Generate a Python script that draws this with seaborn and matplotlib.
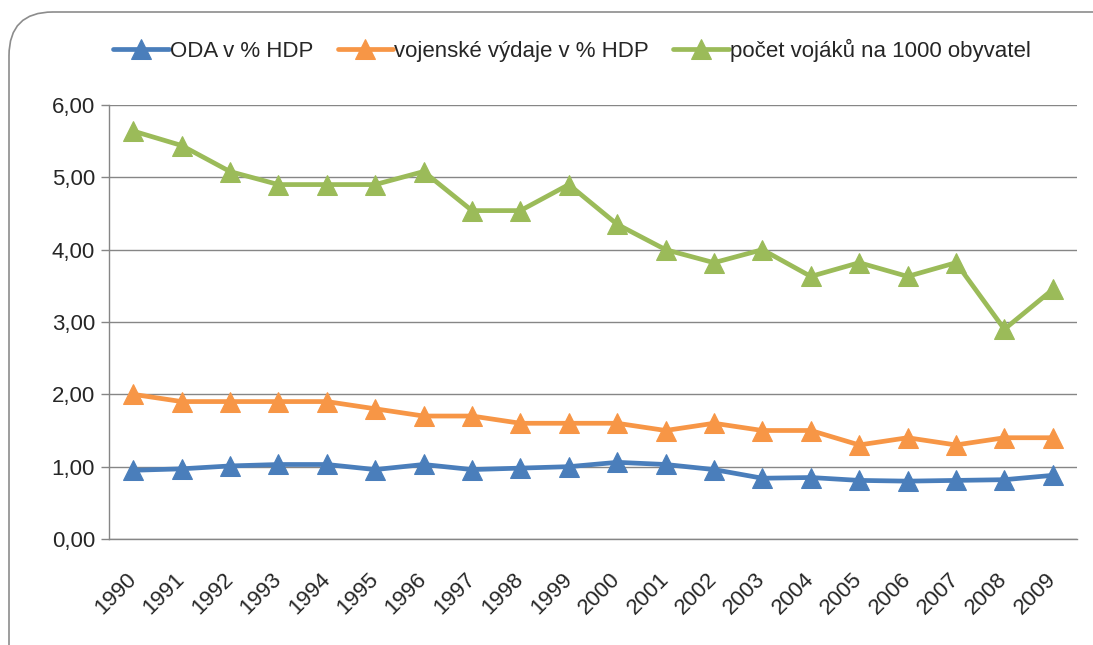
import numpy as np
import pandas as pd
import matplotlib
matplotlib.use('Agg')
import matplotlib.pyplot as plt
from matplotlib.patches import FancyBboxPatch
from matplotlib.ticker import FuncFormatter, FixedLocator
import seaborn as sns

sns.set_style('white')
plt.rcParams['font.family'] = ['Liberation Sans', 'DejaVu Sans']

# Data
years = [str(y) for y in range(1990, 2010)]
oda = [0.95, 0.97, 1.01, 1.03, 1.03, 0.96, 1.03, 0.96, 0.98, 1.00,
       1.06, 1.03, 0.96, 0.84, 0.85, 0.81, 0.80, 0.81, 0.82, 0.88]
military = [2.00, 1.90, 1.90, 1.90, 1.90, 1.80, 1.70, 1.70, 1.60, 1.60,
            1.60, 1.50, 1.60, 1.50, 1.50, 1.30, 1.40, 1.30, 1.40, 1.40]
soldiers = [5.64, 5.44, 5.08, 4.90, 4.90, 4.90, 5.08, 4.54, 4.54, 4.90,
            4.35, 4.00, 3.82, 4.00, 3.63, 3.82, 3.63, 3.82, 2.90, 3.45]

series_names = ['ODA v % HDP', 'vojenské výdaje v % HDP', 'počet vojáků na 1000 obyvatel']
series_values = [oda, military, soldiers]
colors = ['#4A7EBB', '#F79646', '#9BBB59']

fig = plt.figure(figsize=(10.93, 6.45), dpi=100)
ax = fig.add_axes([109/1093, 1-539/645, (1077-109)/1093, (539-105)/645])

x = np.arange(len(years))
for name, vals, col in zip(series_names, series_values, colors):
    sns.lineplot(x=x, y=vals, ax=ax, color=col, linewidth=3.4, marker='^',
                 markersize=14, markeredgecolor=col, label=name)

ax.set_xlim(-0.5, len(years) - 0.5)
ax.set_ylim(0, 6)
ax.set_yticks(np.arange(0, 6.01, 1))
ax.yaxis.set_major_formatter(FuncFormatter(lambda v, p: f'{v:.2f}'.replace('.', ',')))
ax.grid(axis='y', color='#868686', linewidth=1)
ax.set_axisbelow(True)

# ticks between categories, labels at centres
ax.xaxis.set_major_locator(FixedLocator(x))
ax.set_xticklabels(years, rotation=45, ha='right', va='center', rotation_mode='anchor')
ax.xaxis.set_minor_locator(FixedLocator(np.arange(-0.5, len(years), 1)))
ax.tick_params(axis='x', which='major', length=0, pad=27, labelsize=16)
ax.tick_params(axis='x', which='minor', length=6, color='#868686', width=1)
ax.tick_params(axis='y', length=6, color='#868686', width=1, labelsize=16, pad=4, direction='out', left=True)

for s in ['top', 'right']:
    ax.spines[s].set_visible(False)
for s in ['left', 'bottom']:
    ax.spines[s].set_color('#868686')
    ax.spines[s].set_linewidth(1)

ax.set_xlabel('')
ax.set_ylabel('')

leg = ax.legend(loc='center', bbox_to_anchor=(572/1093, 1 - 50/645), bbox_transform=fig.transFigure,
                ncol=3, frameon=False, fontsize=16, handlelength=2.5, handletextpad=0.05,
                columnspacing=1.1, borderaxespad=0)

# rounded chart border
border = FancyBboxPatch((9/1093, -0.1), 1.09, 1 - 12/645 + 0.1,
                        boxstyle='round,pad=0,rounding_size=0.04',
                        transform=fig.transFigure, fill=False,
                        edgecolor='#8c8c8c', linewidth=1.2, mutation_aspect=1093/645)
fig.patches.append(border)

fig.savefig('out.png', dpi=100)
